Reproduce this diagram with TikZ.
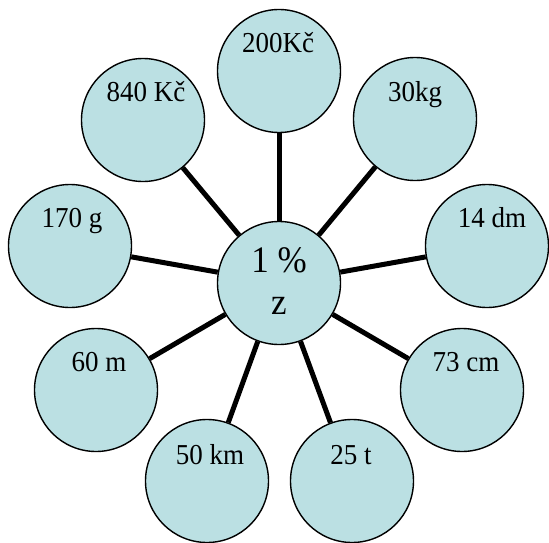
\documentclass[tikz,border=0pt]{standalone}
\usepackage{graphicx}
\usepackage{fontspec}
\setmainfont{Liberation Serif}
\definecolor{bub}{RGB}{187,224,227}
\newcommand{\tall}[1]{\scalebox{1}[1.07]{#1}}
\begin{document}
\begin{tikzpicture}[x=1pt,y=-1pt,
  bubble/.style={circle,draw=black,line width=1.4pt,fill=bub,minimum size=123pt,inner sep=0pt},
  lbl/.style={anchor=base,inner sep=0pt,font=\fontsize{27}{27}\selectfont},
  clbl/.style={anchor=base,inner sep=0pt,font=\fontsize{35}{35}\selectfont},
  spoke/.style={line width=5pt}]
\useasboundingbox (0,0) rectangle (549,543);
\node[bubble] (c) at (279,283) {};
\node[bubble] (a1) at (279,71) {};
\node[bubble] (a2) at (415,119) {};
\node[bubble] (a3) at (487,246) {};
\node[bubble] (a4) at (462,390) {};
\node[bubble] (a5) at (352,481) {};
\node[bubble] (a6) at (207,481) {};
\node[bubble] (a7) at (96,390) {};
\node[bubble] (a8) at (70,246) {};
\node[bubble] (a9) at (143,120) {};
\foreach \i in {1,...,9} \draw[spoke] (c) -- (a\i);
\node[clbl] (tc1) at (279,272) {\tall{1 \%}};
\node[clbl] (tc2) at (279,314) {\tall{z}};
\node[lbl] (t1) at (278,53) {\tall{200Kč}};
\node[lbl] (t2) at (415,101) {\tall{30kg}};
\node[lbl] (t3) at (492,227) {\tall{14 dm}};
\node[lbl] (t4) at (466,371) {\tall{73 cm}};
\node[lbl] (t5) at (351,464) {\tall{25 t}};
\node[lbl] (t6) at (210,464) {\tall{50 km}};
\node[lbl] (t7) at (99,371) {\tall{60 m}};
\node[lbl] (t8) at (72,227) {\tall{170 g}};
\node[lbl] (t9) at (146,102) {\tall{840 Kč}};
\end{tikzpicture}
\end{document}
